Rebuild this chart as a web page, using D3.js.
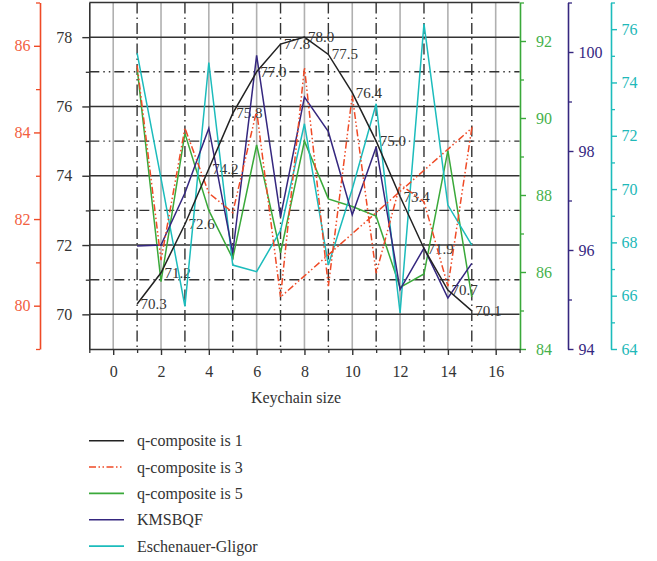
<!DOCTYPE html>
<html><head><meta charset="utf-8">
<script src="https://cdn.jsdelivr.net/npm/d3@7"></script>
<style>body{margin:0;background:#fff}svg{display:block}text{font-family:"Liberation Serif",serif}</style>
</head><body><svg id="c" width="657" height="561"></svg>
<script>
const keychain = [1,2,3,4,5,6,7,8,9,10,11,12,13,14,15];
const q1 = [70.3,71.2,72.6,74.2,75.8,77.0,77.8,78.0,77.5,76.4,75.0,73.4,71.9,70.7,70.1];
// q-composite is 3 : path returns to keychain 7 at the end (as drawn in the source)
const q3X = [1,2,3,4,5,6,7,8,9,10,11,12,13,14,15,7];
const q3 = [85.55,81.05,84.1,82.6,82.15,84.5,80.2,85.5,80.45,84.85,80.75,82.8,82.4,80.45,84.1,80.2];
const q5 = [91.3,85.75,89.6,87.6,86.35,89.3,86.5,89.4,87.9,87.7,87.45,85.6,85.95,89.15,85.35];
const kms = [96.08,96.1,97.15,98.46,95.94,99.93,96.67,99.09,98.39,96.71,98.08,95.2,96.04,95.03,95.73];
const eg = [75.1,70.4,65.6,74.75,67.15,66.9,68.45,72.45,67.15,70.0,73.2,65.35,76.2,69.4,67.9];
const labelsQ1 = ["70.3","71.2","72.6","74.2","75.8","77.0","77.8","78.0","77.5","76.4","75.0","73.4","71.9","70.7","70.1"];
const xTicks = [0,2,4,6,8,10,12,14,16];
const blackTicks = [70,72,74,76,78];
const redTicks = [80,82,84,86];
const greenTicks = [84,86,88,90,92];
const purpleTicks = [94,96,98,100];
const cyanTicks = [64,66,68,70,72,74,76];
const legendNames = ["q-composite is 1","q-composite is 3","q-composite is 5","KMSBQF","Eschenauer-Gligor"];

const C = {black:"#222", red:"#ef4a26", redT:"#f2603f", green:"#3aa93a", greenT:"#45b14b",
           purple:"#35277f", cyan:"#1cbcbc", cyanT:"#21b8b8"};
const svg = d3.select("#c");
const L = 89.3, R = 519.6, T = 2.5, B = 349;
const x = d3.scaleLinear([-1,17],[L,R]);
const yK = d3.scaleLinear([69,79],[B,T]);
const yR = d3.scaleLinear([79,87],[B,T]);
const yG = d3.scaleLinear([84,93],[B,T]);
const yP = d3.scaleLinear([94,101],[B,T]);
const yC = d3.scaleLinear([64,77],[B,T]);
const fmt = d3.format("d");

const grid = svg.append("g");
d3.range(0,17).forEach(v=>{
  const odd = v%2===1;
  grid.append("line").attr("x1",x(v)).attr("x2",x(v)).attr("y1",T).attr("y2",B)
    .attr("stroke",odd?"#333":"#b0b0b0").attr("stroke-width",odd?1.4:1.6)
    .attr("stroke-dasharray",odd?"11,4,1.5,4":null);
});
d3.range(70,79).forEach(v=>{
  const odd = v%2===1;
  grid.append("line").attr("x1",L).attr("x2",R).attr("y1",yK(v)).attr("y2",yK(v))
    .attr("stroke","#333").attr("stroke-width",odd?1.4:1.5)
    .attr("stroke-dasharray",odd?"10,4,1.5,4,1.5,4":null);
});

function axisG(axis, tx, ty, color, textColor){
  const g = svg.append("g").attr("transform",`translate(${tx},${ty})`).call(axis.tickFormat(fmt));
  g.select(".domain").attr("stroke",color).attr("stroke-width",1.6);
  g.selectAll(".tick line").attr("stroke",color).attr("stroke-width",1.4);
  g.selectAll("text").attr("fill",textColor).style("font-size","16px").style("font-family","Liberation Serif, serif");
  return g;
}
function minor(axisFn, scale, vals, tx, ty, color, size){
  const g = svg.append("g").attr("transform",`translate(${tx},${ty})`)
    .call(axisFn(scale).tickValues(vals).tickSize(size).tickSizeOuter(0).tickFormat(""));
  g.select(".domain").remove();
  g.selectAll(".tick line").attr("stroke",color).attr("stroke-width",1.3);
}
// black left
axisG(d3.axisLeft(yK).tickValues(blackTicks).tickSize(7).tickPadding(10).tickSizeOuter(0),L,0,"#333","#333");
minor(d3.axisLeft,yK,[71,73,75,77],L,0,"#333",3.5);
// red
axisG(d3.axisLeft(yR).tickValues(redTicks).tickSize(6).tickPadding(3.5).tickSizeOuter(0),40,0,C.red,C.redT);
minor(d3.axisLeft,yR,[79,81,83,85,87],40,0,C.red,4);
// green
axisG(d3.axisRight(yG).tickValues(greenTicks).tickSize(6).tickPadding(10).tickSizeOuter(0),520,0,C.green,C.greenT);
minor(d3.axisRight,yG,[85,87,89,91,93],520,0,C.green,4);
// purple
axisG(d3.axisRight(yP).tickValues(purpleTicks).tickSize(5.5).tickPadding(5).tickSizeOuter(0),568,0,C.purple,C.purple);
minor(d3.axisRight,yP,[95,97,99,101],568,0,C.purple,4);
// cyan
axisG(d3.axisRight(yC).tickValues(cyanTicks).tickSize(6).tickPadding(4.5).tickSizeOuter(0),611,0,C.cyan,C.cyanT);
minor(d3.axisRight,yC,[65,67,69,71,73,75,77],611,0,C.cyan,4);
// bottom
axisG(d3.axisBottom(x).tickValues(xTicks).tickSize(6).tickPadding(11).tickSizeOuter(0),0,B,"#333","#333");
minor(d3.axisBottom,x,[-1,1,3,5,7,9,11,13,15,17],0,B,"#333",4);
// top border
svg.append("line").attr("x1",L).attr("x2",R).attr("y1",T).attr("y2",T).attr("stroke","#333").attr("stroke-width",1.5);

svg.append("text").attr("x",296).attr("y",402.5).attr("text-anchor","middle")
  .attr("fill","#333").style("font-size","16px").text("Keychain size");

// labels (under lines)
svg.append("g").selectAll("text").data(keychain).join("text")
  .attr("x",(d)=>x(d)+3.5).attr("y",(d,i)=>yK(q1[i])+5)
  .attr("fill","#333").style("font-size","15px").text((d,i)=>labelsQ1[i]);

const line = d3.line();
function draw(xs, ys, scale, color, dash){
  svg.append("path").attr("d",line(xs.map((v,i)=>[x(v),scale(ys[i])])))
    .attr("fill","none").attr("stroke",color).attr("stroke-width",1.5)
    .attr("stroke-dasharray",dash||null).attr("stroke-linejoin","miter");
}
draw(keychain,q5,yG,C.green);
draw(keychain,eg,yC,C.cyan);
draw(keychain,kms,yP,C.purple);
draw(q3X,q3,yR,C.red,"7,2.5,1.5,2.5,1.5,2.5");
draw(keychain,q1,yK,C.black);

// legend
const lg = svg.append("g");
const legColors = [C.black,C.red,C.green,C.purple,C.cyan];
const legDash = [null,"7,2.5,1.5,2.5,1.5,2.5",null,null,null];
legendNames.forEach((n,i)=>{
  const yy = 440.7 + i*26.35;
  lg.append("line").attr("x1",89).attr("x2",124).attr("y1",yy).attr("y2",yy)
    .attr("stroke",legColors[i]).attr("stroke-width",1.6).attr("stroke-dasharray",legDash[i]);
  lg.append("text").attr("x",137).attr("y",yy+5.5).attr("fill","#333").style("font-size","16px").text(n);
});
</script></body></html>
